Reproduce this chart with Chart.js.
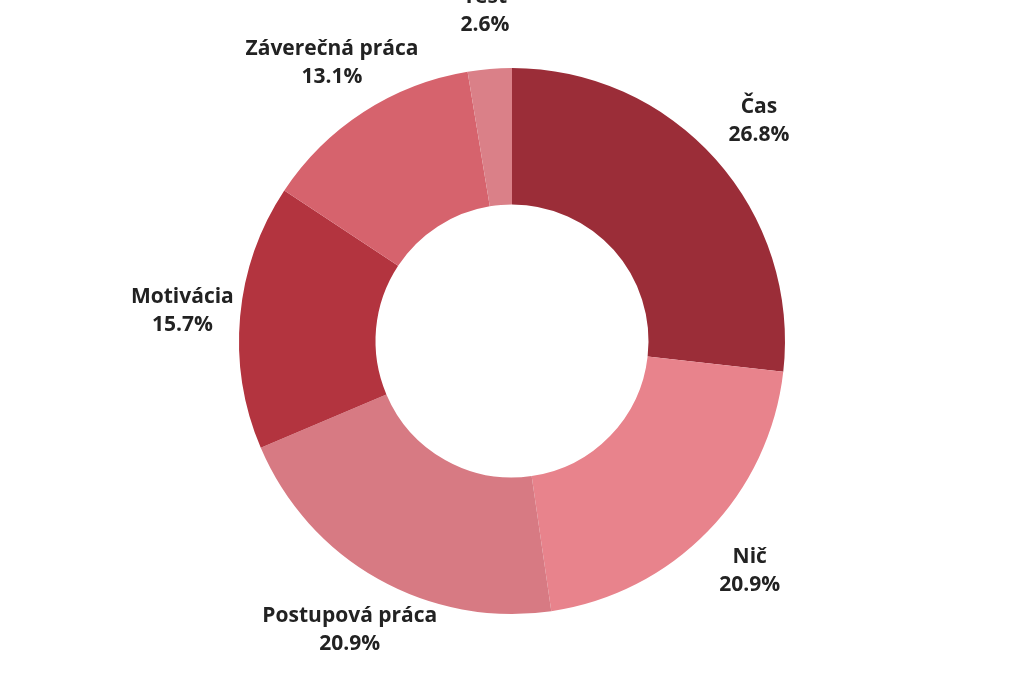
<!DOCTYPE html>
<html><head><meta charset="utf-8">
<script src="https://cdn.jsdelivr.net/npm/chart.js@4"></script>
<style>html,body{margin:0;background:#fff}#w{width:1024px;height:683px}</style>
</head><body><div id="w"><canvas id="c"></canvas></div>
<script>
const categories = ["Čas","Nič","Postupová práca","Motivácia","Záverečná práca","Test"];
const values = [26.8,20.9,20.9,15.7,13.1,2.6];
const colors = ["#9B2D38","#E8838C","#D77A83","#B3343F","#D6636D","#DA8088"];
const labelPlugin = {
  id:'lbl',
  afterDatasetsDraw(chart){
    const ctx=chart.ctx; const meta=chart.getDatasetMeta(0);
    ctx.save(); ctx.font='bold 21px "Open Sans"'; ctx.fillStyle='#222';
    ctx.textAlign='center'; ctx.textBaseline='middle';
    meta.data.forEach((a,i)=>{
      const p=a.getProps(['x','y','startAngle','endAngle','outerRadius'],true);
      const m=(p.startAngle+p.endAngle)/2; const r=p.outerRadius+58;
      const x=p.x+Math.cos(m)*r, y=p.y+Math.sin(m)*r;
      ctx.fillText(categories[i],x,y-14);
      ctx.fillText(values[i].toFixed(1)+'%',x,y+14);
    });
    ctx.restore();
  }
};
new Chart(document.getElementById('c'),{
  type:'doughnut',
  data:{labels:categories,datasets:[{data:values,backgroundColor:colors,borderWidth:0}]},
  options:{responsive:true,maintainAspectRatio:false,animation:false,cutout:'50%',
    layout:{padding:{top:68,bottom:69}},
    plugins:{legend:{display:false},tooltip:{enabled:false}}},
  plugins:[labelPlugin]
});
</script></body></html>
